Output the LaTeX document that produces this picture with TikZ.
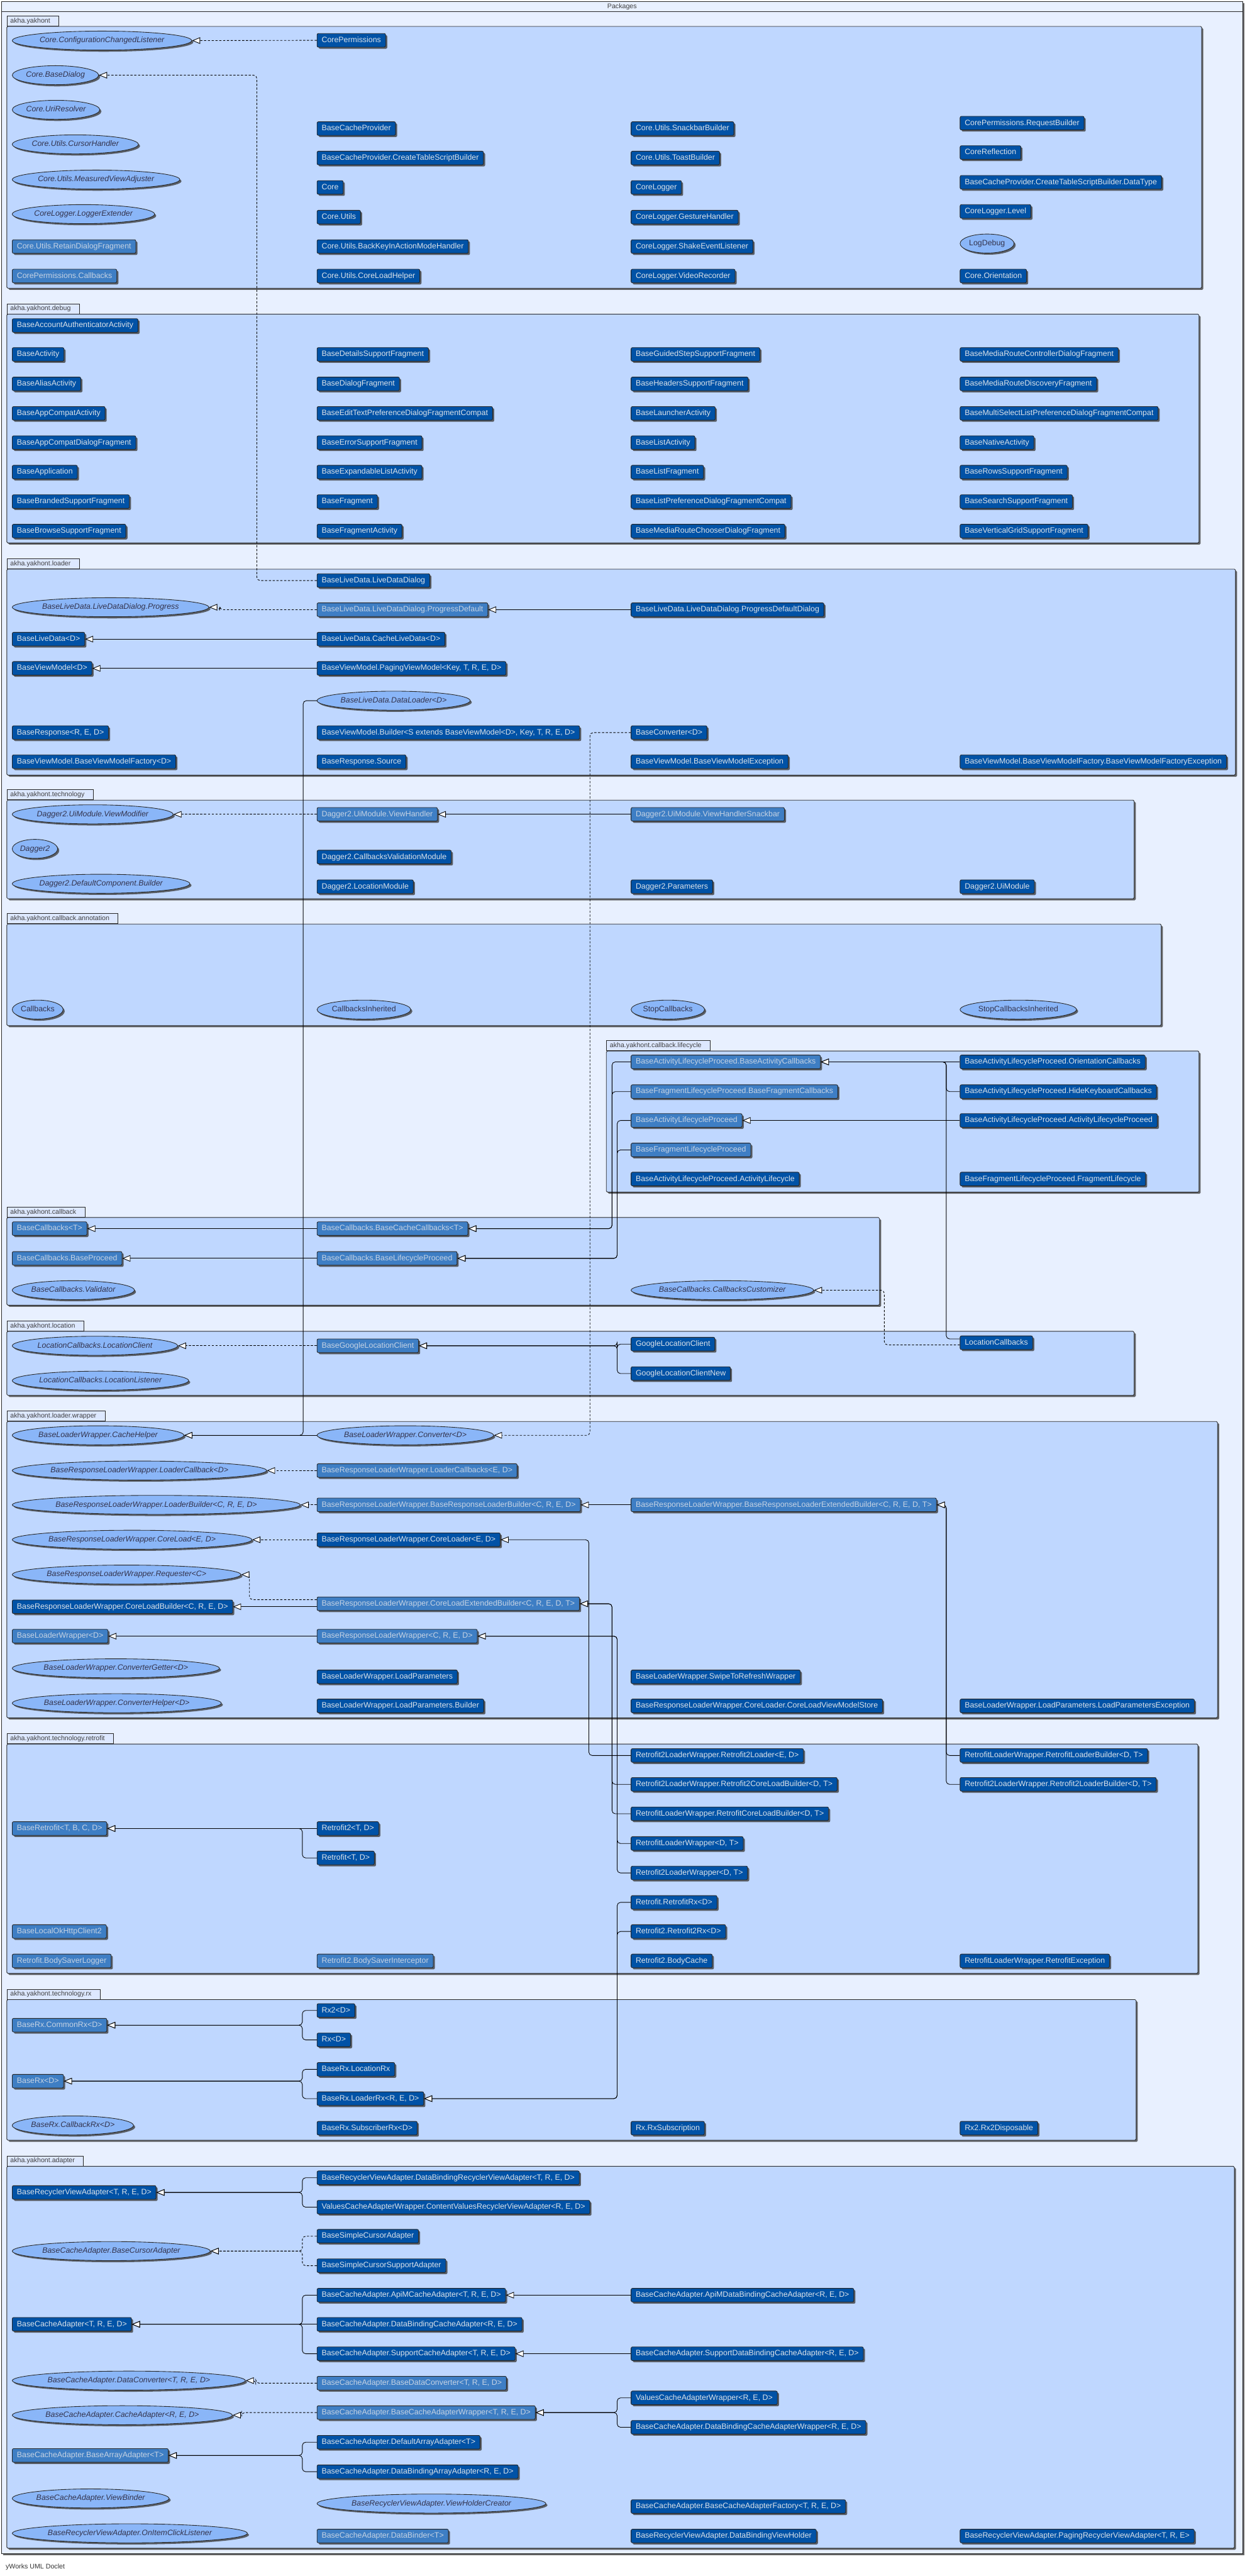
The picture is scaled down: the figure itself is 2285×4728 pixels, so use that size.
\documentclass[tikz,border=0pt]{standalone}
\usepackage{fontspec}
\setmainfont{Liberation Sans}
\usetikzlibrary{arrows.meta,shapes.geometric,shadows}

\definecolor{framefill}{HTML}{E8F0FF}
\definecolor{pkgfill}{HTML}{BFD7FF}
\definecolor{tabfill}{HTML}{DDE8FF}
\definecolor{clsdark}{HTML}{0152A6}
\definecolor{clslight}{HTML}{3E7EC4}
\definecolor{clstext}{HTML}{DDE3EA}
\definecolor{abstext}{HTML}{C6D3E4}
\definecolor{ifacefill}{HTML}{8AB6F8}
\definecolor{ifacetext}{HTML}{33334D}

\tikzset{
  shade3/.style={drop shadow={shadow xshift=3pt,shadow yshift=-3pt,fill=black!75,opacity=0.8}},
  cls/.style={draw=black!85, line width=1pt, fill=clsdark, text=clstext, rounded corners=2.5pt,
    anchor=west, inner xsep=8.5pt, inner ysep=0pt, minimum height=25pt,
    text height=10.5pt, text depth=3pt, font=\fontsize{14.3}{17}\selectfont, shade3},
  abs/.style={cls, fill=clslight, text=abstext},
  iface/.style={ellipse, draw=black!85, line width=1pt, fill=ifacefill, text=ifacetext,
    anchor=west, inner xsep=2pt, inner ysep=5.6pt, text height=10.5pt, text depth=3pt,
    font=\fontsize{14.3}{17}\selectfont\itshape, shade3},
  anno/.style={iface, font=\fontsize{14.3}{17}\selectfont},
  pkgbody/.style={draw=black!85, line width=1pt, fill=pkgfill, rounded corners=2pt, shade3},
  pkgtab/.style={draw=black!85, line width=1pt, fill=tabfill, anchor=south west,
    inner xsep=6pt, inner ysep=0pt, minimum height=18.5pt, text height=9pt, text depth=2.5pt,
    font=\fontsize{12.3}{14}\selectfont, text=black!75},
  ext/.style={draw=black, line width=1pt, rounded corners=6pt,
    -{Triangle[length=15pt,width=12pt,fill=white]}},
  impl/.style={ext, dash pattern=on 4pt off 3pt}
}

\begin{document}
\begin{tikzpicture}[x=1pt, y=-1pt]
  \useasboundingbox (0,0) rectangle (2285,4728);
  \fill[white] (0,0) rectangle (2285,4728);

  % Marco exterior "Packages"
  \draw[draw=black!85, line width=1pt, fill=framefill, shade3] (3,2.5) rectangle (2281,4687);
  \draw[black!85, line width=1pt] (3,21) -- (2281,21);
  \node[font=\fontsize{12.3}{14}\selectfont, text=black!75] (title) at (1142,12) {Packages};
  \node[anchor=west, font=\fontsize{12.3}{14}\selectfont, text=black!80] (doclet) at (7,4711.6) {yWorks UML Doclet};

  % Paquetes
  \draw[pkgbody] (12.5,48.5) rectangle (2206,529);
  \node[pkgtab] (tabCore) at (12.5,48.5) {akha.yakhont\hspace*{10pt}};
  \draw[pkgbody] (12.5,576.5) rectangle (2201,996.6);
  \node[pkgtab] (tabDebug) at (12.5,576.5) {akha.yakhont.debug\hspace*{10pt}};
  \draw[pkgbody] (12.5,1044.6) rectangle (2268,1422.6);
  \node[pkgtab] (tabLoader) at (12.5,1044.6) {akha.yakhont.loader\hspace*{10pt}};
  \draw[pkgbody] (12.5,1468.6) rectangle (2082,1649.4);
  \node[pkgtab] (tabTech) at (12.5,1468.6) {akha.yakhont.technology\hspace*{10pt}};
  \draw[pkgbody] (12.5,1696) rectangle (2131.6,1882.5);
  \node[pkgtab] (tabAnno) at (12.5,1696) {akha.yakhont.callback.annotation\hspace*{10pt}};
  \draw[pkgbody] (1113,1929) rectangle (2201,2188);
  \node[pkgtab] (tabLife) at (1113,1929) {akha.yakhont.callback.lifecycle\hspace*{10pt}};
  \draw[pkgbody] (12.5,2234.6) rectangle (1614.6,2395.5);
  \node[pkgtab] (tabCallback) at (12.5,2234.6) {akha.yakhont.callback\hspace*{10pt}};
  \draw[pkgbody] (12.5,2443.5) rectangle (2082,2561);
  \node[pkgtab] (tabLocation) at (12.5,2443.5) {akha.yakhont.location\hspace*{10pt}};
  \draw[pkgbody] (12.5,2609) rectangle (2235,3153);
  \node[pkgtab] (tabWrapper) at (12.5,2609) {akha.yakhont.loader.wrapper\hspace*{10pt}};
  \draw[pkgbody] (12.5,3201) rectangle (2199,3622);
  \node[pkgtab] (tabRetrofit) at (12.5,3201) {akha.yakhont.technology.retrofit\hspace*{10pt}};
  \draw[pkgbody] (12.5,3670) rectangle (2085.6,3928);
  \node[pkgtab] (tabRx) at (12.5,3670) {akha.yakhont.technology.rx\hspace*{10pt}};
  \draw[pkgbody] (12.5,3976) rectangle (2266,4677);
  \node[pkgtab] (tabAdapter) at (12.5,3976) {akha.yakhont.adapter\hspace*{10pt}};

  % akha.yakhont
  \node[iface] (cfgListener) at (22,74.5) {Core.ConfigurationChangedListener};
  \node[iface] (baseDialog) at (22,138) {Core.BaseDialog};
  \node[iface] (uriResolver) at (22,201.5) {Core.UriResolver};
  \node[iface] (cursorHandler) at (22,265) {Core.Utils.CursorHandler};
  \node[iface] (viewAdjuster) at (22,329.6) {Core.Utils.MeasuredViewAdjuster};
  \node[iface] (loggerExtender) at (22,393) {CoreLogger.LoggerExtender};
  \node[abs] (retainDialog) at (22,452.5) {Core.Utils.RetainDialogFragment};
  \node[abs] (permCallbacks) at (22,506.6) {CorePermissions.Callbacks};
  \node[cls] (corePerm) at (581.5,74) {CorePermissions};
  \node[cls] (cacheProvider) at (581.5,236) {BaseCacheProvider};
  \node[cls] (tableBuilder) at (581.5,290) {BaseCacheProvider.CreateTableScriptBuilder};
  \node[cls] (core) at (581.5,344) {Core};
  \node[cls] (coreUtils) at (581.5,398.5) {Core.Utils};
  \node[cls] (backKey) at (581.5,452.5) {Core.Utils.BackKeyInActionModeHandler};
  \node[cls] (loadHelper) at (581.5,506.6) {Core.Utils.CoreLoadHelper};
  \node[cls] (snackbar) at (1158,236) {Core.Utils.SnackbarBuilder};
  \node[cls] (toast) at (1158,290) {Core.Utils.ToastBuilder};
  \node[cls] (coreLogger) at (1158,344) {CoreLogger};
  \node[cls] (gesture) at (1158,398.5) {CoreLogger.GestureHandler};
  \node[cls] (shake) at (1158,452.5) {CoreLogger.ShakeEventListener};
  \node[cls] (video) at (1158,506.6) {CoreLogger.VideoRecorder};
  \node[cls] (requestBuilder) at (1762,226) {CorePermissions.RequestBuilder};
  \node[cls] (reflection) at (1762,280) {CoreReflection};
  \node[cls] (dataType) at (1762,334.6) {BaseCacheProvider.CreateTableScriptBuilder.DataType};
  \node[cls] (level) at (1762,388) {CoreLogger.Level};
  \node[anno] (logDebug) at (1762,447) {LogDebug};
  \node[cls] (orientation) at (1762,506.6) {Core.Orientation};

  % akha.yakhont.debug
  \node[cls] (accountAuth) at (22,597.5) {BaseAccountAuthenticatorActivity};
  \node[cls] (baseActivity) at (22,650.5) {BaseActivity};
  \node[cls] (aliasActivity) at (22,704.6) {BaseAliasActivity};
  \node[cls] (appCompatActivity) at (22,758.7) {BaseAppCompatActivity};
  \node[cls] (appCompatDialog) at (22,812.4) {BaseAppCompatDialogFragment};
  \node[cls] (application) at (22,866.5) {BaseApplication};
  \node[cls] (brandedSupport) at (22,920.6) {BaseBrandedSupportFragment};
  \node[cls] (browseSupport) at (22,974.7) {BaseBrowseSupportFragment};
  \node[cls] (detailsSupport) at (581.5,650.5) {BaseDetailsSupportFragment};
  \node[cls] (dialogFragment) at (581.5,704.6) {BaseDialogFragment};
  \node[cls] (editTextPref) at (581.5,758.7) {BaseEditTextPreferenceDialogFragmentCompat};
  \node[cls] (errorSupport) at (581.5,812.4) {BaseErrorSupportFragment};
  \node[cls] (expandableList) at (581.5,866.5) {BaseExpandableListActivity};
  \node[cls] (fragment) at (581.5,920.6) {BaseFragment};
  \node[cls] (fragmentActivity) at (581.5,974.7) {BaseFragmentActivity};
  \node[cls] (guidedStep) at (1158,650.5) {BaseGuidedStepSupportFragment};
  \node[cls] (headersSupport) at (1158,704.6) {BaseHeadersSupportFragment};
  \node[cls] (launcher) at (1158,758.7) {BaseLauncherActivity};
  \node[cls] (listActivity) at (1158,812.4) {BaseListActivity};
  \node[cls] (listFragment) at (1158,866.5) {BaseListFragment};
  \node[cls] (listPref) at (1158,920.6) {BaseListPreferenceDialogFragmentCompat};
  \node[cls] (routeChooser) at (1158,974.7) {BaseMediaRouteChooserDialogFragment};
  \node[cls] (routeController) at (1762,650.5) {BaseMediaRouteControllerDialogFragment};
  \node[cls] (routeDiscovery) at (1762,704.6) {BaseMediaRouteDiscoveryFragment};
  \node[cls] (multiSelect) at (1762,758.7) {BaseMultiSelectListPreferenceDialogFragmentCompat};
  \node[cls] (nativeActivity) at (1762,812.4) {BaseNativeActivity};
  \node[cls] (rowsSupport) at (1762,866.5) {BaseRowsSupportFragment};
  \node[cls] (searchSupport) at (1762,920.6) {BaseSearchSupportFragment};
  \node[cls] (verticalGrid) at (1762,974.7) {BaseVerticalGridSupportFragment};

  % akha.yakhont.loader
  \node[cls] (ldDialog) at (581.5,1065.5) {BaseLiveData.LiveDataDialog};
  \node[iface] (progress) at (22,1114.5) {BaseLiveData.LiveDataDialog.Progress};
  \node[abs] (progressDefault) at (581.5,1119) {BaseLiveData.LiveDataDialog.ProgressDefault};
  \node[cls] (progressDialog) at (1158,1119) {BaseLiveData.LiveDataDialog.ProgressDefaultDialog};
  \node[cls] (liveData) at (22,1173) {BaseLiveData<D>};
  \node[cls] (cacheLiveData) at (581.5,1173) {BaseLiveData.CacheLiveData<D>};
  \node[cls] (viewModel) at (22,1226.7) {BaseViewModel<D>};
  \node[cls] (pagingVM) at (581.5,1226.7) {BaseViewModel.PagingViewModel<Key, T, R, E, D>};
  \node[iface] (dataLoader) at (581.5,1286) {BaseLiveData.DataLoader<D>};
  \node[cls] (response) at (22,1344.6) {BaseResponse<R, E, D>};
  \node[cls] (vmBuilder) at (581.5,1344.6) {BaseViewModel.Builder<S extends BaseViewModel<D>, Key, T, R, E, D>};
  \node[cls] (converter) at (1158,1344.6) {BaseConverter<D>};
  \node[cls] (vmFactory) at (22,1398) {BaseViewModel.BaseViewModelFactory<D>};
  \node[cls] (source) at (581.5,1398) {BaseResponse.Source};
  \node[cls] (vmException) at (1158,1398) {BaseViewModel.BaseViewModelException};
  \node[cls] (factoryException) at (1762,1398) {BaseViewModel.BaseViewModelFactory.BaseViewModelFactoryException};

  % akha.yakhont.technology
  \node[iface] (viewModifier) at (22,1494.6) {Dagger2.UiModule.ViewModifier};
  \node[abs] (viewHandler) at (581.5,1494.6) {Dagger2.UiModule.ViewHandler};
  \node[abs] (handlerSnackbar) at (1158,1494.6) {Dagger2.UiModule.ViewHandlerSnackbar};
  \node[iface] (dagger) at (22,1558) {Dagger2};
  \node[cls] (validationModule) at (581.5,1573) {Dagger2.CallbacksValidationModule};
  \node[iface] (componentBuilder) at (22,1622) {Dagger2.DefaultComponent.Builder};
  \node[cls] (locationModule) at (581.5,1627.4) {Dagger2.LocationModule};
  \node[cls] (parameters) at (1158,1627.4) {Dagger2.Parameters};
  \node[cls] (uiModule) at (1762,1627.4) {Dagger2.UiModule};

  % akha.yakhont.callback.annotation
  \node[anno] (callbacksAnno) at (22,1853) {Callbacks};
  \node[anno] (inheritedAnno) at (581.5,1853) {CallbacksInherited};
  \node[anno] (stopAnno) at (1158,1853) {StopCallbacks};
  \node[anno] (stopInheritedAnno) at (1762,1853) {StopCallbacksInherited};

  % akha.yakhont.callback.lifecycle
  \node[abs] (activityCb) at (1158,1949) {BaseActivityLifecycleProceed.BaseActivityCallbacks};
  \node[abs] (fragmentCb) at (1158,2003.5) {BaseFragmentLifecycleProceed.BaseFragmentCallbacks};
  \node[abs] (activityLP) at (1158,2056.5) {BaseActivityLifecycleProceed};
  \node[abs] (fragmentLP) at (1158,2110.6) {BaseFragmentLifecycleProceed};
  \node[cls] (activityLifecycle) at (1158,2164) {BaseActivityLifecycleProceed.ActivityLifecycle};
  \node[cls] (orientationCb) at (1762,1949) {BaseActivityLifecycleProceed.OrientationCallbacks};
  \node[cls] (keyboardCb) at (1762,2003.5) {BaseActivityLifecycleProceed.HideKeyboardCallbacks};
  \node[cls] (activityLPImpl) at (1762,2056.5) {BaseActivityLifecycleProceed.ActivityLifecycleProceed};
  \node[cls] (fragmentLifecycle) at (1762,2164) {BaseFragmentLifecycleProceed.FragmentLifecycle};

  % akha.yakhont.callback
  \node[abs] (baseCallbacks) at (22,2255) {BaseCallbacks<T>};
  \node[abs] (cacheCallbacks) at (581.5,2255) {BaseCallbacks.BaseCacheCallbacks<T>};
  \node[abs] (baseProceed) at (22,2309.6) {BaseCallbacks.BaseProceed};
  \node[abs] (lifecycleProceed) at (581.5,2309.6) {BaseCallbacks.BaseLifecycleProceed};
  \node[iface] (validator) at (22,2368) {BaseCallbacks.Validator};
  \node[iface] (customizer) at (1158,2368) {BaseCallbacks.CallbacksCustomizer};

  % akha.yakhont.location
  \node[iface] (locationClient) at (22,2470) {LocationCallbacks.LocationClient};
  \node[abs] (googleBase) at (581.5,2470) {BaseGoogleLocationClient};
  \node[cls] (googleClient) at (1158,2467) {GoogleLocationClient};
  \node[cls] (googleClientNew) at (1158,2521) {GoogleLocationClientNew};
  \node[cls] (locationCb) at (1762,2464.4) {LocationCallbacks};
  \node[iface] (locationListener) at (22,2534) {LocationCallbacks.LocationListener};

  % akha.yakhont.loader.wrapper
  \node[iface] (cacheHelper) at (22,2634.3) {BaseLoaderWrapper.CacheHelper};
  \node[iface] (wrapConverter) at (581.5,2634.3) {BaseLoaderWrapper.Converter<D>};
  \node[iface] (loaderCallback) at (22,2699) {BaseResponseLoaderWrapper.LoaderCallback<D>};
  \node[abs] (loaderCallbacks) at (581.5,2699) {BaseResponseLoaderWrapper.LoaderCallbacks<E, D>};
  \node[iface] (loaderBuilderI) at (22,2762) {BaseResponseLoaderWrapper.LoaderBuilder<C, R, E, D>};
  \node[abs] (responseBuilder) at (581.5,2762) {BaseResponseLoaderWrapper.BaseResponseLoaderBuilder<C, R, E, D>};
  \node[abs] (extendedBuilder) at (1158,2762) {BaseResponseLoaderWrapper.BaseResponseLoaderExtendedBuilder<C, R, E, D, T>};
  \node[iface] (coreLoad) at (22,2826) {BaseResponseLoaderWrapper.CoreLoad<E, D>};
  \node[cls] (coreLoader) at (581.5,2826) {BaseResponseLoaderWrapper.CoreLoader<E, D>};
  \node[iface] (requester) at (22,2890) {BaseResponseLoaderWrapper.Requester<C>};
  \node[abs] (loadExtBuilder) at (581.5,2943.5) {BaseResponseLoaderWrapper.CoreLoadExtendedBuilder<C, R, E, D, T>};
  \node[cls] (loadBuilder) at (22,2949) {BaseResponseLoaderWrapper.CoreLoadBuilder<C, R, E, D>};
  \node[abs] (loaderWrapper) at (22,3003) {BaseLoaderWrapper<D>};
  \node[abs] (responseWrapper) at (581.5,3003) {BaseResponseLoaderWrapper<C, R, E, D>};
  \node[iface] (converterGetter) at (22,3062) {BaseLoaderWrapper.ConverterGetter<D>};
  \node[cls] (loadParams) at (581.5,3077.6) {BaseLoaderWrapper.LoadParameters};
  \node[cls] (swipeWrapper) at (1158,3077.6) {BaseLoaderWrapper.SwipeToRefreshWrapper};
  \node[iface] (converterHelper) at (22,3126) {BaseLoaderWrapper.ConverterHelper<D>};
  \node[cls] (paramsBuilder) at (581.5,3131) {BaseLoaderWrapper.LoadParameters.Builder};
  \node[cls] (viewModelStore) at (1158,3131) {BaseResponseLoaderWrapper.CoreLoader.CoreLoadViewModelStore};
  \node[cls] (paramsException) at (1762,3131) {BaseLoaderWrapper.LoadParameters.LoadParametersException};

  % akha.yakhont.technology.retrofit
  \node[abs] (baseRetrofit) at (22,3356) {BaseRetrofit<T, B, C, D>};
  \node[cls] (retrofit2) at (581.5,3356) {Retrofit2<T, D>};
  \node[cls] (retrofit1) at (581.5,3410) {Retrofit<T, D>};
  \node[abs] (okHttp) at (22,3545) {BaseLocalOkHttpClient2};
  \node[abs] (saverLogger) at (22,3599) {Retrofit.BodySaverLogger};
  \node[abs] (saverInterceptor) at (581.5,3599) {Retrofit2.BodySaverInterceptor};
  \node[cls] (r2Loader) at (1158,3222) {Retrofit2LoaderWrapper.Retrofit2Loader<E, D>};
  \node[cls] (r2CoreBuilder) at (1158,3275) {Retrofit2LoaderWrapper.Retrofit2CoreLoadBuilder<D, T>};
  \node[cls] (rCoreBuilder) at (1158,3329) {RetrofitLoaderWrapper.RetrofitCoreLoadBuilder<D, T>};
  \node[cls] (rWrapper) at (1158,3383.5) {RetrofitLoaderWrapper<D, T>};
  \node[cls] (r2Wrapper) at (1158,3437.6) {Retrofit2LoaderWrapper<D, T>};
  \node[cls] (retrofitRx) at (1158,3491.6) {Retrofit.RetrofitRx<D>};
  \node[cls] (retrofit2Rx) at (1158,3545) {Retrofit2.Retrofit2Rx<D>};
  \node[cls] (bodyCache) at (1158,3599) {Retrofit2.BodyCache};
  \node[cls] (rLoaderBuilder) at (1762,3222) {RetrofitLoaderWrapper.RetrofitLoaderBuilder<D, T>};
  \node[cls] (r2LoaderBuilder) at (1762,3275) {Retrofit2LoaderWrapper.Retrofit2LoaderBuilder<D, T>};
  \node[cls] (retrofitException) at (1762,3599) {RetrofitLoaderWrapper.RetrofitException};

  % akha.yakhont.technology.rx
  \node[abs] (commonRx) at (22,3717) {BaseRx.CommonRx<D>};
  \node[cls] (rx2) at (581.5,3690) {Rx2<D>};
  \node[cls] (rx1) at (581.5,3744) {Rx<D>};
  \node[abs] (baseRx) at (22,3819.7) {BaseRx<D>};
  \node[cls] (locationRx) at (581.5,3798) {BaseRx.LocationRx};
  \node[cls] (loaderRx) at (581.5,3851.8) {BaseRx.LoaderRx<R, E, D>};
  \node[iface] (callbackRx) at (22,3901) {BaseRx.CallbackRx<D>};
  \node[cls] (subscriberRx) at (581.5,3906) {BaseRx.SubscriberRx<D>};
  \node[cls] (rxSubscription) at (1158,3906) {Rx.RxSubscription};
  \node[cls] (rx2Disposable) at (1762,3906) {Rx2.Rx2Disposable};

  % akha.yakhont.adapter
  \node[cls] (recyclerAdapter) at (22,4024) {BaseRecyclerViewAdapter<T, R, E, D>};
  \node[cls] (dbRecycler) at (581.5,3997) {BaseRecyclerViewAdapter.DataBindingRecyclerViewAdapter<T, R, E, D>};
  \node[cls] (cvRecycler) at (581.5,4051) {ValuesCacheAdapterWrapper.ContentValuesRecyclerViewAdapter<R, E, D>};
  \node[iface] (cursorAdapter) at (22,4131.6) {BaseCacheAdapter.BaseCursorAdapter};
  \node[cls] (simpleCursor) at (581.5,4104.3) {BaseSimpleCursorAdapter};
  \node[cls] (simpleCursorSupport) at (581.5,4158.4) {BaseSimpleCursorSupportAdapter};
  \node[cls] (cacheAdapter) at (22,4266) {BaseCacheAdapter<T, R, E, D>};
  \node[cls] (apiMAdapter) at (581.5,4212.5) {BaseCacheAdapter.ApiMCacheAdapter<T, R, E, D>};
  \node[cls] (dbCacheAdapter) at (581.5,4266) {BaseCacheAdapter.DataBindingCacheAdapter<R, E, D>};
  \node[cls] (supportAdapter) at (581.5,4320) {BaseCacheAdapter.SupportCacheAdapter<T, R, E, D>};
  \node[cls] (apiMDbAdapter) at (1158,4212.5) {BaseCacheAdapter.ApiMDataBindingCacheAdapter<R, E, D>};
  \node[cls] (supportDbAdapter) at (1158,4320) {BaseCacheAdapter.SupportDataBindingCacheAdapter<R, E, D>};
  \node[iface] (dataConverterI) at (22,4369.3) {BaseCacheAdapter.DataConverter<T, R, E, D>};
  \node[abs] (dataConverter) at (581.5,4374) {BaseCacheAdapter.BaseDataConverter<T, R, E, D>};
  \node[iface] (cacheAdapterI) at (22,4432.8) {BaseCacheAdapter.CacheAdapter<R, E, D>};
  \node[abs] (adapterWrapper) at (581.5,4428) {BaseCacheAdapter.BaseCacheAdapterWrapper<T, R, E, D>};
  \node[cls] (valuesWrapper) at (1158,4401) {ValuesCacheAdapterWrapper<R, E, D>};
  \node[cls] (dbWrapper) at (1158,4455) {BaseCacheAdapter.DataBindingCacheAdapterWrapper<R, E, D>};
  \node[abs] (arrayAdapter) at (22,4506.7) {BaseCacheAdapter.BaseArrayAdapter<T>};
  \node[cls] (defaultArray) at (581.5,4482.4) {BaseCacheAdapter.DefaultArrayAdapter<T>};
  \node[cls] (dbArray) at (581.5,4536.5) {BaseCacheAdapter.DataBindingArrayAdapter<R, E, D>};
  \node[iface] (viewBinder) at (22,4585.6) {BaseCacheAdapter.ViewBinder};
  \node[iface] (holderCreator) at (581.5,4595) {BaseRecyclerViewAdapter.ViewHolderCreator};
  \node[cls] (adapterFactory) at (1158,4600.5) {BaseCacheAdapter.BaseCacheAdapterFactory<T, R, E, D>};
  \node[iface] (itemClick) at (22,4649.6) {BaseRecyclerViewAdapter.OnItemClickListener};
  \node[abs] (dataBinder) at (581.5,4654.6) {BaseCacheAdapter.DataBinder<T>};
  \node[cls] (dbHolder) at (1158,4654.6) {BaseRecyclerViewAdapter.DataBindingViewHolder};
  \node[cls] (pagingAdapter) at (1762,4654.6) {BaseRecyclerViewAdapter.PagingRecyclerViewAdapter<T, R, E>};

  % Herencia directa
  \foreach \from/\to in {progressDialog/progressDefault, cacheLiveData/liveData, pagingVM/viewModel,
      wrapConverter/cacheHelper, handlerSnackbar/viewHandler, orientationCb/activityCb,
      activityLPImpl/activityLP, cacheCallbacks/baseCallbacks, lifecycleProceed/baseProceed,
      extendedBuilder/responseBuilder, responseWrapper/loaderWrapper, retrofit2/baseRetrofit,
      dbCacheAdapter/cacheAdapter, apiMDbAdapter/apiMAdapter, supportDbAdapter/supportAdapter}
    \draw[ext] (\from.west) -- (\to.east);

  % Implementaciones directas
  \foreach \from/\to in {corePerm/cfgListener, viewHandler/viewModifier, googleBase/locationClient,
      loaderCallbacks/loaderCallback, responseBuilder/loaderBuilderI, coreLoader/coreLoad}
    \draw[impl] (\from.west) -- (\to.east);

  % Herencia con codo
  \foreach \from/\to/\gap in {dataLoader/cacheHelper/25, keyboardCb/activityCb/25,
      activityCb/cacheCallbacks/34.5, fragmentCb/cacheCallbacks/34.5,
      activityLP/lifecycleProceed/25, fragmentLP/lifecycleProceed/25,
      googleClient/googleBase/25, googleClientNew/googleBase/25, r2Loader/coreLoader/77,
      r2CoreBuilder/loadExtBuilder/34.5, rCoreBuilder/loadExtBuilder/34.5,
      rWrapper/responseWrapper/25, r2Wrapper/responseWrapper/25,
      rLoaderBuilder/extendedBuilder/25, r2LoaderBuilder/extendedBuilder/25,
      retrofitRx/loaderRx/25, retrofit2Rx/loaderRx/25, retrofit1/baseRetrofit/26.5,
      rx2/commonRx/26.5, rx1/commonRx/26.5, locationRx/baseRx/26.5, loaderRx/baseRx/26.5,
      dbRecycler/recyclerAdapter/26.5, cvRecycler/recyclerAdapter/26.5,
      apiMAdapter/cacheAdapter/26.5, supportAdapter/cacheAdapter/26.5,
      valuesWrapper/adapterWrapper/25, dbWrapper/adapterWrapper/25,
      defaultArray/arrayAdapter/26.5, dbArray/arrayAdapter/26.5}
    \draw[ext] (\from.west) -- ++(-\gap,0) |- (\to.east);

  % Implementaciones con codo
  \foreach \from/\to/\gap in {ldDialog/baseDialog/110, progressDefault/progress/178,
      converter/wrapConverter/75, simpleCursor/cursorAdapter/26.5,
      simpleCursorSupport/cursorAdapter/26.5, dataConverter/dataConverterI/112,
      adapterWrapper/cacheAdapterI/138}
    \draw[impl] (\from.west) -- ++(-\gap,0) |- (\to.east);

  % Casos especiales
  \draw[ext] ([yshift=7pt]locationCb.west) -- ++(-25,0) |- (activityCb.east);
  \draw[impl] ([yshift=-4pt]locationCb.west) -- ++(-138.6,0) |- (customizer.east);
  \draw[impl] ([yshift=7.5pt]loadExtBuilder.west) -- ++(-123.5,0) |- (requester.east);
  \draw[ext] (loadExtBuilder.west |- loadBuilder.east) -- (loadBuilder.east);
\end{tikzpicture}
\end{document}
